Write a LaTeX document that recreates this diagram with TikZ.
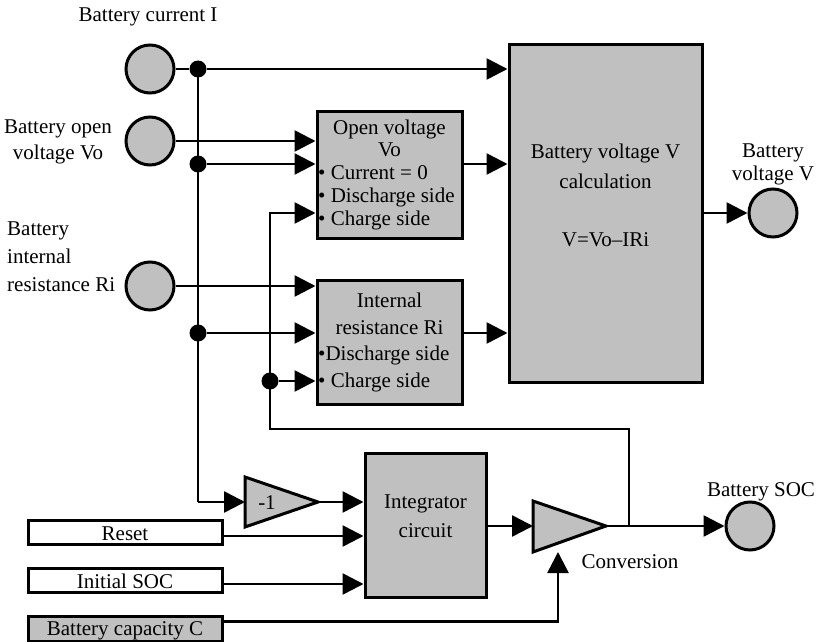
\documentclass[tikz,border=0pt]{standalone}
\usepackage{fontspec}
\setmainfont{Liberation Serif}
\usetikzlibrary{arrows.meta,calc}
\definecolor{boxgray}{RGB}{192,192,192}
\begin{document}
\begin{tikzpicture}[x=1pt,y=-1pt,
  txt/.style={font=\fontsize{21}{24}\selectfont, inner sep=0pt, anchor=base},
  blk/.style={draw, line width=3pt, fill=boxgray, inner sep=0pt},
  inbox/.style={draw, line width=3pt, fill=white, inner sep=0pt, minimum width=194pt, minimum height=24pt},
  port/.style={circle, draw, line width=3pt, fill=boxgray, minimum size=48pt, inner sep=0pt},
  jdot/.style={circle, fill=black, minimum size=17pt, inner sep=0pt},
  wire/.style={line width=2.6pt},
  arr/.style={wire, -{Triangle[length=21pt,width=21pt]}},
  tri/.style={draw, line width=3pt, fill=boxgray, line join=miter}
]
\useasboundingbox (0,0) rectangle (817,642);

% ports
\node[port] (cI) at (150,69) {};
\node[port] (cVo) at (150,141) {};
\node[port] (cRi) at (150,286) {};
\node[port] (cV) at (773,213) {};
\node[port] (cSOC) at (750,526) {};

% port labels
\node[txt] (lI) at (148,22) {Battery current I};
\node[txt] (lVo1) at (58,133) {Battery open};
\node[txt] (lVo2) at (58,159) {voltage Vo};
\node[txt, anchor=base west] (lRi1) at (7,235) {Battery};
\node[txt, anchor=base west] (lRi2) at (7,263) {internal};
\node[txt, anchor=base west] (lRi3) at (7,291) {resistance Ri};
\node[txt] (lV1) at (773,157) {Battery};
\node[txt] (lV2) at (773,180) {voltage V};
\node[txt] (lSOC) at (761,496) {Battery SOC};

% blocks
\node[blk, minimum width=145pt, minimum height=127pt] (ov) at (389.5,174.5) {};
\node[txt] at (389.5,134) {Open voltage};
\node[txt] at (389.5,156) {Vo};
\node[txt, anchor=base west] at (318,179) {• Current = 0};
\node[txt, anchor=base west] at (318,202) {• Discharge side};
\node[txt, anchor=base west] at (318,225) {• Charge side};

\node[blk, minimum width=145pt, minimum height=124pt] (int) at (389.5,342) {};
\node[txt] at (389.5,307) {Internal};
\node[txt] at (389.5,334) {resistance Ri};
\node[txt, anchor=base west] at (318,360) {•Discharge side};
\node[txt, anchor=base west] at (318,387) {• Charge side};

\node[blk, minimum width=193pt, minimum height=337pt] (big) at (605.5,213.5) {};
\node[txt] at (605.5,158) {Battery voltage V};
\node[txt] at (605.5,188) {calculation};
\node[txt] at (605.5,246) {V=Vo–IRi};

\node[blk, minimum width=121pt, minimum height=144pt] (integ) at (425.5,525) {};
\node[txt] at (425.5,508) {Integrator};
\node[txt] at (425.5,537) {circuit};

% input boxes
\node[inbox] (reset) at (125,532) {};
\node[txt] at (125,540) {Reset};
\node[inbox] (init) at (125,580) {};
\node[txt] at (125,588) {Initial SOC};
\node[inbox, fill=boxgray, minimum height=25pt] (cap) at (125,628.5) {};
\node[txt] at (125,635) {Battery capacity C};

% triangles
\draw[tri] (245,477) -- (318,502) -- (245,527) -- cycle;
\coordinate (negW) at (245,502);
\coordinate (negE) at (318,502);
\node[txt] (neg) at (267,509) {-1};

\draw[tri] (533,501) -- (606,526) -- (533,552) -- cycle;
\coordinate (convW) at (533,526);
\coordinate (convE) at (606,526);
\coordinate (convIn) at (558,552);
\node[txt] (lconv) at (630,568) {Conversion};

% junction dots
\node[jdot] (d1) at (198,69) {};
\node[jdot] (d2) at (198,164) {};
\node[jdot] (d3) at (198,333) {};
\node[jdot] (d4) at (270,381) {};
\coordinate (busEnd) at (198,502);

% feedback path coordinates
\coordinate (fbA) at (629,526);
\coordinate (fbB) at (629,429);
\coordinate (fbC) at (270,429);
\coordinate (fbD) at (270,213);

% connectors
\draw[wire] (cI) -- (d1);
\draw[arr] (d1) -- (d1 -| big.west);
\draw[wire] (d1.center) -- (busEnd);
\draw[arr] (busEnd) -- (negW);
\draw[arr] (cVo) -- (cVo -| ov.west);
\draw[arr] (d2) -- (d2 -| ov.west);
\draw[arr] (cRi) -- (cRi -| int.west);
\draw[arr] (d3) -- (d3 -| int.west);
\draw[arr] (d4) -- (d4 -| int.west);
\draw[arr] (fbA) -- (fbB) -- (fbC) -- (fbD) -- (fbD -| ov.west);
\draw[arr] (d2 -| ov.east) -- (d2 -| big.west);
\draw[arr] (d3 -| int.east) -- (d3 -| big.west);
\draw[arr] (big.east |- cV) -- (cV);
\draw[arr] (negE) -- (negE -| integ.west);
\coordinate (rsE) at ($(reset.east)+(0,4)$);
\draw[arr] (rsE) -- (rsE -| integ.west);
\coordinate (inE) at ($(init.east)+(0,4)$);
\draw[arr] (inE) -- (inE -| integ.west);
\coordinate (cpE) at ($(cap.east)+(0,-7)$);
\draw[arr] (cpE) -- (cpE -| convIn) -- (convIn);
\draw[arr] (integ.east |- convW) -- (convW);
\draw[arr] (convE) -- (cSOC);
\end{tikzpicture}
\end{document}
